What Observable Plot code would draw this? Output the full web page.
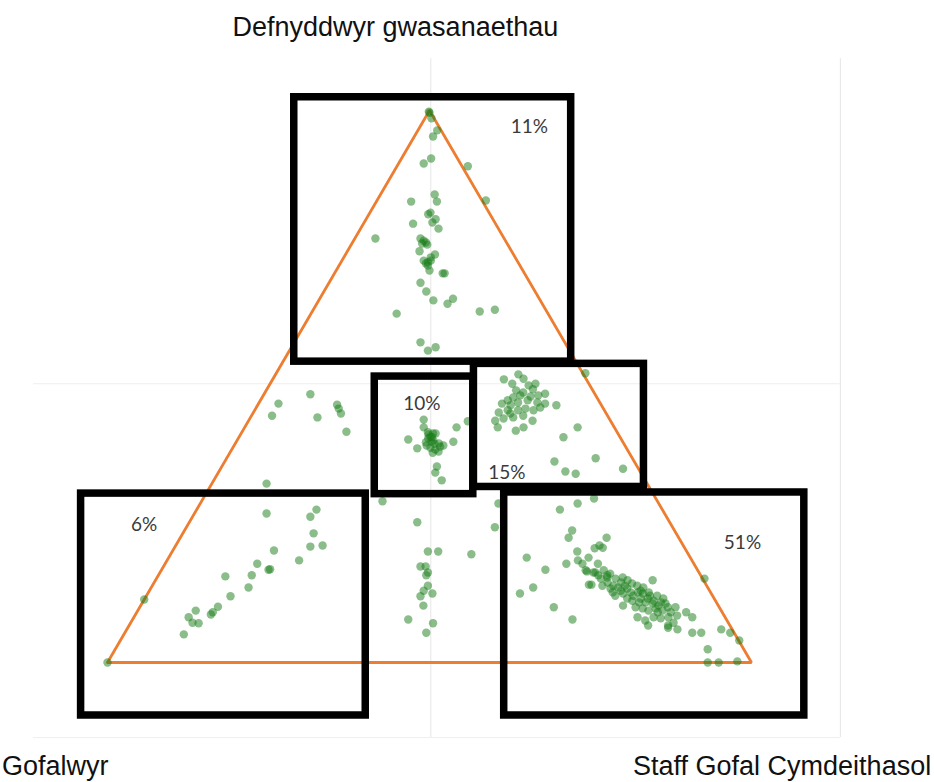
<!DOCTYPE html>
<html><head><meta charset="utf-8">
<script src="https://cdn.jsdelivr.net/npm/d3@7"></script>
<script src="https://cdn.jsdelivr.net/npm/@observablehq/plot@0.6"></script>
<style>html,body{margin:0;padding:0;background:#fff}#chart svg{display:block}</style>
</head><body><div id="chart"></div>
<script>
// Ternary corners (top, bottom-left, bottom-right)
const cornerNames = ["Defnyddwyr gwasanaethau", "Gofalwyr", "Staff Gofal Cymdeithasol"];

// Each response: [staff %, service users %]; carers % = 100 - staff - users
const points = [
  [0,99.8],[0.2,99.6],[1.0,98.6],[3.0,96.4],[2.9,95.3],[4.6,91.3],[3.9,90.4],[11.0,89.9],[16.9,83.7],[5.4,83.5],
  [8.4,84.8],[9.4,83.5],[9.4,81.5],[9.2,81.2],[7.7,79.5],[10.6,79.7],[10.8,80.3],[12.1,78.6],[3.2,76.8],[10.2,76.8],
  [10.9,76.4],[11.4,76.1],[10.9,75.9],[11.8,75.7],[11.2,74.5],[13.9,73.9],[13.5,73.4],[12.7,72.8],[13.5,72.5],[13.8,72.8],
  [13.3,72.3],[13.8,71.9],[14.5,71.0],[16.8,70.5],[17.1,70.5],[14.2,68.8],[15.9,67.2],[17.8,65.6],[20.3,65.0],[20.7,65.9],
  [13.3,63.2],[26.0,63.6],[28.2,63.9],[19.6,58.0],[21.5,56.5],[22.4,57.1],
  [7.2,48.6],[3.1,46.9],[3.2,44.7],[10.4,44.4],[12.3,46.7],[12.9,46.0],[13.7,45.1],[16.2,41.8],[8.5,32.4],
  [27.1,44.0],[27.8,42.6],[26.5,40.4],[28.7,38.8],[28.9,41.7],[29.8,41.5],[30.2,41.5],[29.5,40.6],[30.5,40.2],[31.6,39.7],
  [29.5,39.9],[30.7,38.9],[31.6,38.6],[32.1,39.1],[32.5,39.3],[32.3,38.2],[31.5,38.0],[29.7,40.9],[30.0,40.8],[29.2,41.3],
  [32.9,42.6],[33.7,40.0],[34.1,43.7],[33.4,35.5],[33.7,34.4],[35.4,33.0],[30.3,40.0],[31.0,39.6],[29.9,39.3],
  [48.0,52.4],[35.9,51.3],[37.6,50.5],[37.7,52.2],[38.9,51.4],[41.2,50.5],[38.4,47.5],[39.0,48.0],[40.1,48.9],[41.3,49.5],
  [42.7,48.4],[37.8,46.9],[39.3,46.6],[40.2,47.1],[41.5,47.5],[43.2,47.1],[44.5,46.9],[46.4,46.6],[38.1,45.3],[39.3,45.7],
  [40.9,45.7],[41.9,46.0],[43.3,45.7],[44.1,46.2],[38.3,43.8],[39.4,44.2],[40.8,44.4],[42.2,44.7],[44.1,43.8],[39.3,42.6],
  [42.4,42.0],[43.3,42.6],[38.8,49.3],[40.3,50.2],[39.9,48.4],[41.6,48.2],[40.0,45.1],[43.6,48.7],[51.7,42.6],[50.4,40.8],
  [51.2,36.4],[53.8,34.6],[55.6,34.2],[57.3,37.0],[62.5,35.1],
  [28.1,29.2],[35.4,25.4],[39.7,20.1],[41.3,20.1],[46.7,19.6],[39.9,17.4],[40.7,17.4],[41.6,16.3],[41.6,15.8],[42.8,13.9],
  [42.6,13.0],[44.2,12.5],[42.6,12.0],[43.9,10.3],[42.8,7.8],[47.0,7.1],[46.8,5.4],[46.3,28.8],[47.9,24.5],
  [11.2,27.0],[18.6,27.7],[18.3,26.4],[20.3,23.4],[21.0,21.0],[22.8,21.2],[15.7,20.3],[20.5,18.5],[14.3,17.9],[16.6,16.8],
  [16.8,16.9],[10.5,15.6],[14.5,15.8],[15.1,13.6],[13.1,12.0],[12.1,10.1],[11.8,9.1],[11.7,8.7],[9.0,9.4],[8.5,8.2],
  [9.6,7.2],[10.6,7.1],[9.3,5.1],[0,11.4],[0,0],
  [60.7,29.7],[58.6,28.8],[56.4,27.7],[60.2,23.9],[60.3,22.6],[66.2,22.6],[65.8,21.2],[65.3,20.7],[62.9,20.1],[55.6,19.0],
  [62.3,17.9],[63.8,18.5],[64.8,17.9],[65.2,19.0],[59.6,16.8],[67.2,17.9],[66.2,16.5],[59.3,13.6],[57.8,12.5],[64.3,10.0],
  [68.3,7.8],[67.7,14.1],[67.6,16.3],[68.7,16.7],[69.9,15.4],[66.5,20.8],[65.9,16.7],[67.3,16.3],[70.0,16.1],[68.1,14.1],
  [69.0,15.2],[70.4,14.5],[71.3,15.2],[72.3,15.4],[73.3,14.9],[71.4,13.4],[72.5,13.6],[73.4,13.9],[74.3,14.3],[75.3,13.9],
  [76.4,13.6],[77.2,14.9],[72.8,12.1],[73.8,12.5],[74.9,12.7],[76.0,12.7],[76.9,12.5],[78.2,12.1],[79.3,12.1],[80.5,11.6],
  [74.9,10.3],[75.9,11.2],[77.1,10.9],[78.1,10.9],[79.3,10.7],[80.4,10.3],[82.0,10.0],[83.2,10.0],[74.9,11.6],[77.0,10.0],
  [78.2,9.8],[79.3,9.4],[80.2,9.8],[81.5,9.4],[78.2,8.2],[79.7,7.6],[80.7,8.2],[81.9,8.0],[83.0,8.2],[84.2,8.5],
  [85.3,9.1],[86.7,8.2],[80.6,6.7],[83.7,6.7],[84.3,7.2],[85.5,6.0],[88.1,5.4],[89.5,5.4],[85.1,15.2],[74.0,13.4],
  [75.6,12.1],[77.0,11.6],[78.1,11.6],[73.2,13.0],[71.6,13.9],[69.7,15.8],[68.3,15.8],[79.2,11.2],[80.5,10.9],[72.5,14.5],
  [76.3,13.0],[77.7,12.7],[81.3,10.7],[72.1,12.7],[69.9,13.9],[80.9,9.1],[82.9,9.1],[83.9,6.3],[92.3,6.0],[94.0,5.4],
  [96.1,4.0],[92.0,2.4],[93.2,0],[94.9,0],[97.7,0.2]
];

// Highlighted regions (chart units: position along base %, height %)
const regionNames = ["11%", "10%", "15%", "6%", "51%"];
const regionX1 = [29.0, 41.5, 56.9, -4.1, 61.6];
const regionX2 = [72.0, 56.8, 83.3, 40.1, 108.2];
const regionY1 = [54.5, 30.5, 31.8, -9.6, -9.6];
const regionY2 = [102.4, 51.8, 54.1, 30.6, 30.8];
const regionLabelX = [65.5, 48.8, 62.0, 5.7, 98.6];
const regionLabelY = [97.0, 46.9, 34.4, 25.0, 21.6];

// faint background guides (chart units)
const guideX = [50.2, 113.8];
const guideY = [-13.6, 50.5];

const toXY = ([staff, users]) => ({x: staff + users / 2, y: users});
const dots = points.map(toXY);
const triangle = [[0, 0], [100, 0], [0, 100], [0, 0]].map(toXY);
const regions = regionNames.map((name, i) => ({
  name, x1: regionX1[i], x2: regionX2[i], y1: regionY1[i], y2: regionY2[i],
  lx: regionLabelX[i], ly: regionLabelY[i]
}));

const labelFont = "'Liberation Sans', Arial, sans-serif";
const chart = Plot.plot({
  width: 934,
  height: 782,
  margin: 0,
  x: {domain: [-16.615, 128.416], axis: null},
  y: {domain: [-21.739, 119.928], axis: null},
  style: {background: "#fff"},
  marks: [
    Plot.ruleX(guideX, {y1: -13.6, y2: 109.4, stroke: "#e6e6e6", strokeWidth: 1}),
    Plot.ruleY(guideY, {x1: -11.5, x2: 113.8, stroke: "#efefef", strokeWidth: 1}),
    Plot.line(triangle, {x: "x", y: "y", stroke: "#ED7D31", strokeWidth: 2.8, strokeLinejoin: "miter"}),
    Plot.dot(dots, {x: "x", y: "y", r: 4.2, fill: "#167c16", fillOpacity: 0.5}),
    Plot.rect(regions, {x1: "x1", x2: "x2", y1: "y1", y2: "y2", fill: "none", stroke: "#000", strokeWidth: 7.5, strokeLinejoin: "miter"}),
    Plot.text(regions, {x: "lx", y: "ly", text: "name", fontFamily: "Lato, 'Open Sans', sans-serif", fontSize: 19, fill: "#3a3a3a"}),
    Plot.text([cornerNames[0]], {x: 44.7, y: 115.0, text: d => d, fontFamily: labelFont, fontSize: 27, fill: "#111"}),
    Plot.text([cornerNames[1]], {x: -16.4, y: -18.9, text: d => d, textAnchor: "start", fontFamily: labelFont, fontSize: 27, fill: "#111"}),
    Plot.text([cornerNames[2]], {x: 127.9, y: -18.9, text: d => d, textAnchor: "end", fontFamily: labelFont, fontSize: 27, fill: "#111"})
  ]
});
document.getElementById("chart").appendChild(chart);
</script>
</body></html>
